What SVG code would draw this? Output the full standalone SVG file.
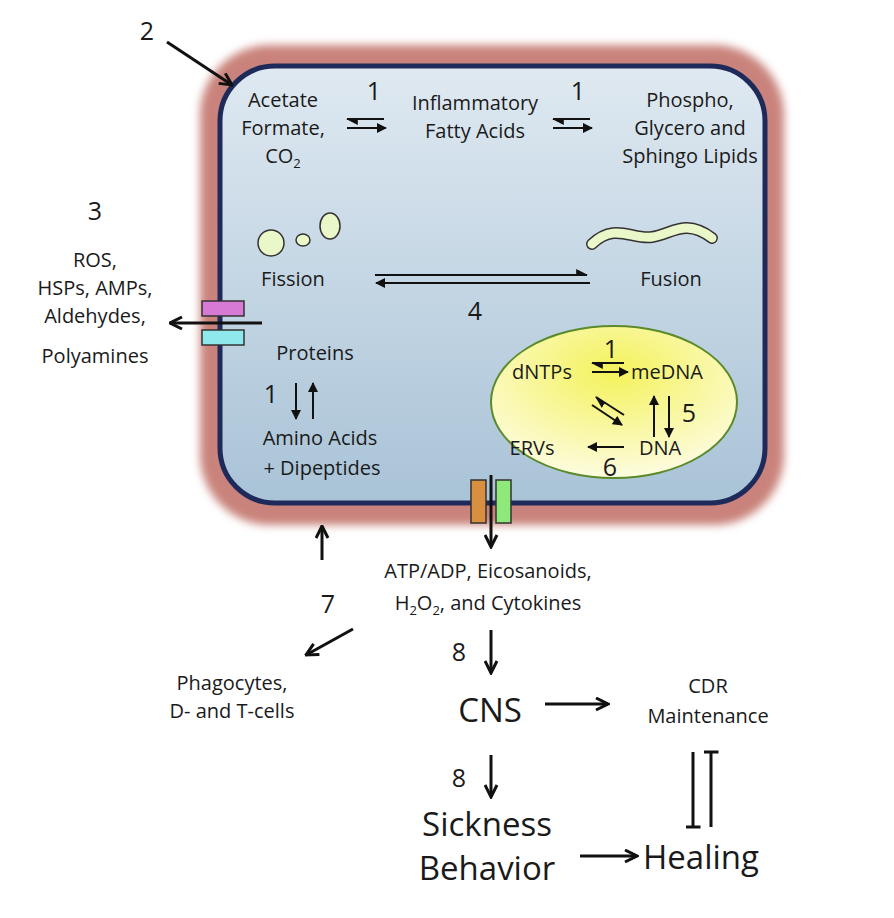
<svg xmlns="http://www.w3.org/2000/svg" width="894" height="918" viewBox="0 0 894 918">
<style>
text{font-family:"Open Sans","Liberation Sans",sans-serif;fill:#1a1a1a;text-anchor:middle}
.s{font-size:20px}.m{font-size:25px}.l{font-size:33px}
.a{stroke:#111;stroke-width:2;fill:none}
.b{stroke:#111;stroke-width:3;fill:none}
</style>
<defs>
<linearGradient id="cg" x1="0" y1="0" x2="0" y2="1"><stop offset="0" stop-color="#dfe9f1"/><stop offset="1" stop-color="#a9c3d7"/></linearGradient>
<radialGradient id="ng" cx="0.5" cy="0.3" r="0.7"><stop offset="0" stop-color="#f4f25a"/><stop offset="1" stop-color="#fdfce0"/></radialGradient>
<filter id="bl"><feGaussianBlur stdDeviation="4"/></filter>
<marker id="h" viewBox="0 0 10 10" refX="9" refY="5" markerWidth="5" markerHeight="5" orient="auto"><path d="M1,1 L9,5 L1,9" fill="none" stroke="#111" stroke-width="2"/></marker>
<marker id="hb" viewBox="0 0 10 10" refX="9" refY="5" markerWidth="5" markerHeight="5" orient="auto"><path d="M0,0 L10,5 L0,10 Z" fill="#111"/></marker>
<marker id="hh" viewBox="0 0 10 10" refX="9" refY="5" markerWidth="6" markerHeight="6" orient="auto"><path d="M0,0 L10,5 L0,5 Z" fill="#111"/></marker>
<marker id="t" viewBox="0 0 10 10" refX="5" refY="5" markerWidth="5" markerHeight="5" orient="auto"><path d="M5,0 L5,10" stroke="#111" stroke-width="2"/></marker>
</defs>
<rect width="894" height="918" fill="#fff"/>
<g id="cell">
<rect x="200" y="45" width="584" height="480" rx="70" fill="#c9837b" filter="url(#bl)"/>
<rect x="220" y="66" width="545" height="437" rx="55" fill="url(#cg)" stroke="#1e2a5a" stroke-width="5"/>
</g>
<g id="lipids">
<text class="s" x="283" y="107">Acetate</text>
<text class="s" x="283" y="135">Formate,</text>
<text class="s" x="283" y="163">CO<tspan font-size="13" dy="5">2</tspan></text>
<text class="m" x="374" y="100">1</text>
<text class="s" x="475" y="110">Inflammatory</text>
<text class="s" x="475" y="138">Fatty Acids</text>
<text class="m" x="578" y="100">1</text>
<text class="s" x="690" y="107">Phospho,</text>
<text class="s" x="690" y="135">Glycero and</text>
<text class="s" x="690" y="163">Sphingo Lipids</text>
</g>
<g id="mito">
<ellipse cx="271" cy="243" rx="13" ry="13" fill="#eaf7c8" stroke="#333" stroke-width="1.5"/>
<ellipse cx="303" cy="240" rx="7" ry="6" fill="#eaf7c8" stroke="#333" stroke-width="1.5"/>
<ellipse cx="330" cy="226" rx="10" ry="13" fill="#eaf7c8" stroke="#333" stroke-width="1.5"/>
<path d="M592,244 C615,222 632,240 652,237 C672,234 685,218 712,238" fill="none" stroke="#333" stroke-width="12" stroke-linecap="round"/>
<path d="M592,244 C615,222 632,240 652,237 C672,234 685,218 712,238" fill="none" stroke="#eaf7c8" stroke-width="9" stroke-linecap="round"/>
<text class="s" x="293" y="286">Fission</text>
<text class="s" x="671" y="286">Fusion</text>
<text class="m" x="475" y="320">4</text>
</g>
<g id="proteins">
<text class="s" x="315" y="360">Proteins</text>
<text class="m" x="271" y="403">1</text>
<text class="s" x="320" y="445">Amino Acids</text>
<text class="s" x="322" y="475">+ Dipeptides</text>
</g>
<g id="nucleus">
<ellipse cx="614" cy="402" rx="123" ry="76" fill="url(#ng)" stroke="#5a8a2a" stroke-width="2"/>
<text class="s" x="542" y="379">dNTPs</text>
<text class="s" x="667" y="379">meDNA</text>
<text class="m" x="611" y="358">1</text>
<text class="m" x="689" y="422">5</text>
<text class="s" x="532" y="455">ERVs</text>
<text class="s" x="660" y="455">DNA</text>
<text class="m" x="610" y="476">6</text>
</g>
<g id="channels">
<rect x="202" y="301" width="42" height="15" fill="#d67ad6" stroke="#333" stroke-width="1.5"/>
<rect x="202" y="330" width="42" height="15" fill="#8ee8ec" stroke="#333" stroke-width="1.5"/>
<rect x="471" y="480" width="15" height="43" fill="#d98f40" stroke="#333" stroke-width="1.5"/>
<rect x="496" y="480" width="15" height="43" fill="#8fe87a" stroke="#333" stroke-width="1.5"/>
</g>
<g id="outside">
<text class="m" x="147" y="40">2</text>
<text class="m" x="95" y="220">3</text>
<text class="s" x="95" y="267">ROS,</text>
<text class="s" x="95" y="295">HSPs, AMPs,</text>
<text class="s" x="95" y="323">Aldehydes,</text>
<text class="s" x="95" y="363">Polyamines</text>
<text class="s" x="488" y="578">ATP/ADP, Eicosanoids,</text>
<text class="s" x="488" y="610">H<tspan font-size="13" dy="5">2</tspan><tspan dy="-5">O</tspan><tspan font-size="13" dy="5">2</tspan><tspan dy="-5">, and Cytokines</tspan></text>
<text class="m" x="328" y="613">7</text>
<text class="s" x="232" y="690">Phagocytes,</text>
<text class="s" x="232" y="718">D- and T-cells</text>
<text class="m" x="459" y="661">8</text>
<text class="l" x="490" y="722">CNS</text>
<text class="s" x="708" y="693">CDR</text>
<text class="s" x="708" y="723">Maintenance</text>
<text class="m" x="459" y="787">8</text>
<text class="l" x="487" y="836">Sickness</text>
<text class="l" x="487" y="880">Behavior</text>
<text class="l" x="701" y="869">Healing</text>
</g>
<g id="connectors">
<line class="b" x1="167" y1="42" x2="232" y2="85" marker-end="url(#h)"/>
<line class="a" x1="384" y1="119" x2="347" y2="119" marker-end="url(#hh)"/>
<line class="a" x1="347" y1="128" x2="386" y2="128" marker-end="url(#hb)"/>
<line class="a" x1="590" y1="119" x2="553" y2="119" marker-end="url(#hh)"/>
<line class="a" x1="553" y1="128" x2="592" y2="128" marker-end="url(#hb)"/>
<line class="a" x1="375" y1="275" x2="587" y2="275" marker-end="url(#hh)"/>
<line class="a" x1="590" y1="283" x2="376" y2="283" marker-end="url(#hb)"/>
<line class="b" x1="262" y1="323" x2="170" y2="323" marker-end="url(#h)"/>
<line class="a" x1="296" y1="383" x2="296" y2="419" marker-end="url(#hb)"/>
<line class="a" x1="313" y1="419" x2="313" y2="383" marker-end="url(#hb)"/>
<line class="a" x1="624" y1="363" x2="592" y2="363" marker-end="url(#hh)"/>
<line class="a" x1="592" y1="372" x2="628" y2="372" marker-end="url(#hb)"/>
<line class="a" x1="624" y1="415" x2="596" y2="397" marker-end="url(#hh)"/>
<line class="a" x1="592" y1="405" x2="622" y2="425" marker-end="url(#hb)"/>
<line class="a" x1="654" y1="437" x2="654" y2="396" marker-end="url(#hb)"/>
<line class="a" x1="669" y1="396" x2="669" y2="437" marker-end="url(#hb)"/>
<line class="a" x1="624" y1="447" x2="588" y2="447" marker-end="url(#hb)"/>
<line class="b" x1="491" y1="475" x2="491" y2="547" marker-end="url(#h)"/>
<line class="b" x1="322" y1="560" x2="322" y2="526" marker-end="url(#h)"/>
<line class="b" x1="353" y1="629" x2="306" y2="655" marker-end="url(#h)"/>
<line class="b" x1="491" y1="630" x2="491" y2="673" marker-end="url(#h)"/>
<line class="b" x1="545" y1="704" x2="608" y2="704" marker-end="url(#h)"/>
<line class="b" x1="491" y1="755" x2="491" y2="797" marker-end="url(#h)"/>
<line class="b" x1="580" y1="856" x2="637" y2="856" marker-end="url(#h)"/>
<line class="b" x1="693" y1="752" x2="693" y2="827" marker-end="url(#t)"/>
<line class="b" x1="711" y1="827" x2="711" y2="752" marker-end="url(#t)"/>
</g>
</svg>
